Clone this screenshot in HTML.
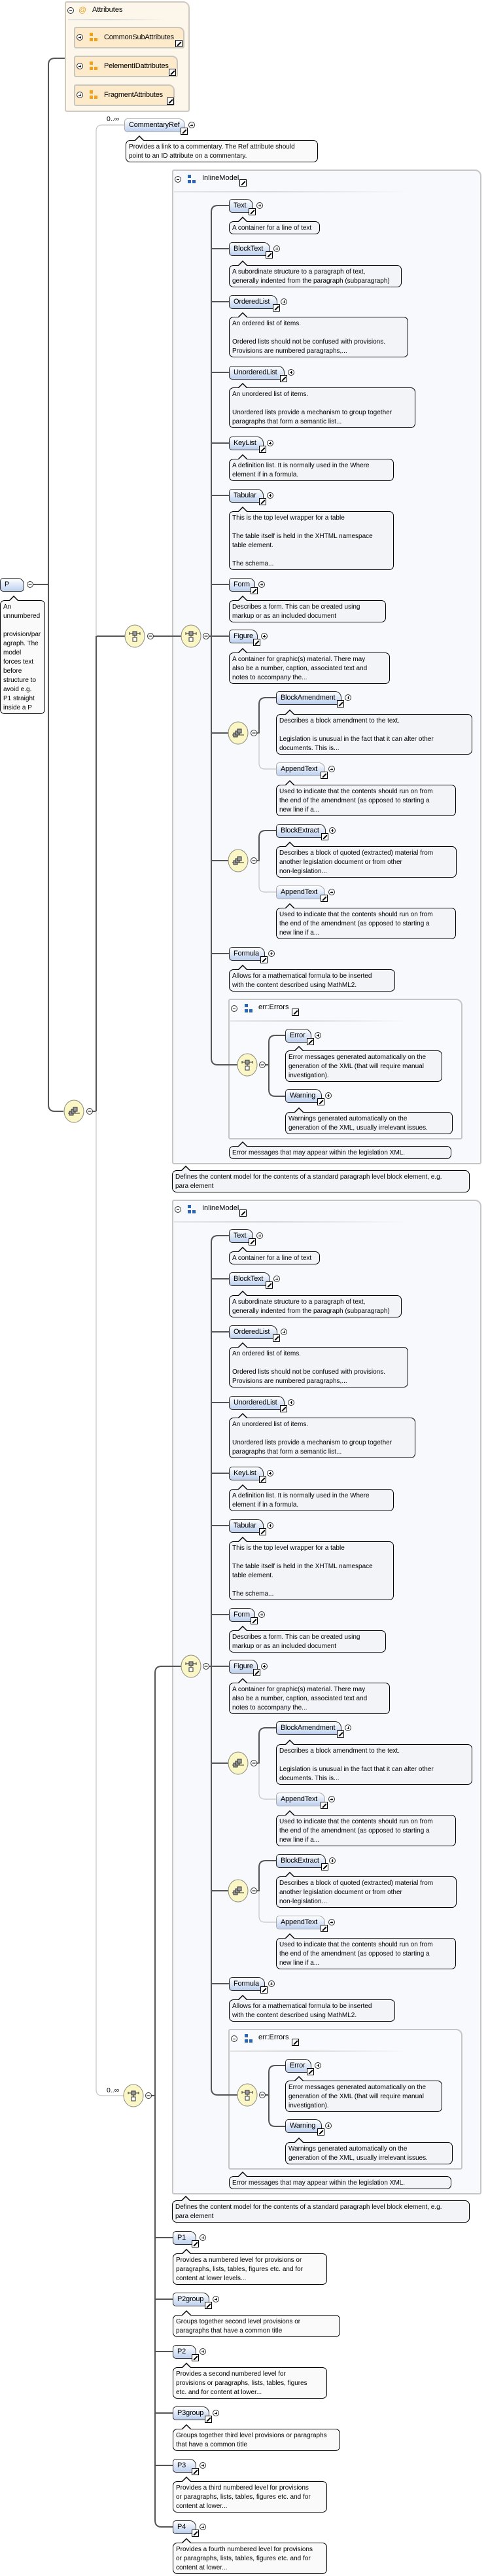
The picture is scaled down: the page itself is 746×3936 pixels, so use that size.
<!DOCTYPE html>
<html><head><meta charset="utf-8">
<style>
body{margin:0;width:746px;height:3936px;position:relative;background:#fff;overflow:hidden;font-family:"Liberation Sans",sans-serif}
.a{position:absolute;left:0;top:0;width:746px;height:1px}
.g{position:absolute;box-sizing:border-box;border:2px solid #c6c6c6;border-radius:3px 10px 3px 3px;background:#f7f9fd}
.ga{position:absolute;box-sizing:border-box;border:2px solid #cfc9c0;border-radius:3px 10px 3px 3px;background:#fdf6ea}
.gi{position:absolute;box-sizing:border-box;border:2px solid #cbc6bd;border-radius:3px 9px 3px 3px;background:#fdeacb;font:11px/28px "Liberation Sans",sans-serif;letter-spacing:-0.2px;padding-left:44px;white-space:nowrap}
.nd{position:absolute;box-sizing:border-box;height:21px;border:1px solid #2a2a2a;border-radius:5px 10px 5px 5px;background:linear-gradient(#ffffff,#bdd0ef);font:11px/19px "Liberation Sans",sans-serif;letter-spacing:-0.2px;padding-left:6px;white-space:nowrap;color:#000}
.nd.o{border-color:#a8a8a8}
.lk{position:absolute;right:-5px;top:13px;width:9px;height:9px;border:1px solid #000;background:#fff}
.lk::after{content:"";position:absolute;left:0.5px;top:3.5px;width:8px;height:2px;background:#000;transform:rotate(-45deg)}
.pl,.mi,.c{position:absolute;box-sizing:border-box;width:10px;height:10px;border:1px solid #333;border-radius:50%;background:#fff}
.nd .pl,.nd .mi{top:4px;right:-16px}
.pl::before,.mi::before,.c::before{content:"";position:absolute;left:2px;top:3.5px;width:4px;height:1px;background:#000}
.pl::after{content:"";position:absolute;left:3.5px;top:2px;width:1px;height:4px;background:#000}
.dc{position:absolute;box-sizing:border-box;border:1px solid #000;border-radius:7px;background:#f3f4f7;font:10px/14px "Liberation Sans",sans-serif;padding:3px 0 0 4px;white-space:nowrap;color:#000}
.dc::before{content:"";position:absolute;left:12px;top:-8px;border-left:8px solid transparent;border-right:8px solid transparent;border-bottom:8px solid #000}
.dc::after{content:"";position:absolute;left:13px;top:-6.5px;border-left:7px solid transparent;border-right:7px solid transparent;border-bottom:7px solid #f3f4f7}
.dc.w{background:#fafafa}.dc.w::after{border-bottom-color:#fafafa}
.ic{position:absolute;width:5px;height:5px;background:#2a66b4;box-shadow:0 8px 0 #2a66b4,7px 8px 0 #2a66b4}
.ic.or{background:#eca21e;box-shadow:0 8px 0 #eca21e,7px 8px 0 #eca21e}
.t{position:absolute;font:11px "Liberation Sans",sans-serif;white-space:nowrap}
.sep{position:absolute;height:2px;background:linear-gradient(90deg,#e4e4e4,#d8d8d8 40%,rgba(230,230,230,0))}
.lks{position:absolute;width:9px;height:9px;border:1px solid #000;background:#fff}
.lks::after{content:"";position:absolute;left:0.5px;top:3.5px;width:8px;height:2px;background:#000;transform:rotate(-45deg)}
</style></head><body>

<div class="ga" style="left:99px;top:2px;width:191px;height:169px"></div>
<div class="g" style="left:263px;top:259px;width:473px;height:1520px"></div>
<div class="g" style="left:349px;top:1526px;width:358px;height:215px;background:#f8fafd"></div>
<div class="g" style="left:263px;top:1833px;width:473px;height:1520px"></div>
<div class="g" style="left:349px;top:3100px;width:358px;height:215px;background:#f8fafd"></div>

<svg class="a" style="height:3936px;" width="746" height="3936" viewBox="0 0 746 3936">
<g fill="none" stroke="#555" stroke-width="2">
<path d="M99,89 H84 Q74,89 74,99 V1688 Q74,1698 84,1698 H97"/>
<path d="M51,893 H74"/>
<path d="M142,1698 H147 M147,972 V1698 M147,972 H191"/>
<path d="M235,972 H277"/>
<path d="M232,3202 H237 M277,2546 H247 Q237,2546 237,2556 V3851 Q237,3861 247,3861 H264 M237,3419 H264 M237,3513 H264 M237,3593 H264 M237,3687 H264 M237,3767 H264"/>
</g>
<g fill="none" stroke="#c4c4c4" stroke-width="1.2">
<path d="M190,191 H156 Q147,191 147,200 V972"/>
<path d="M147,1698 V3193 Q147,3202 156,3202 H189"/>
</g>
<g stroke="#8a8a7a" stroke-width="1" fill="#fbf6c6">
<ellipse cx="113" cy="1698" rx="15" ry="17"/>
<ellipse cx="206" cy="972" rx="15" ry="17"/>
<ellipse cx="204" cy="3202" rx="15" ry="17"/>
</g>
<g stroke="#333" stroke-width="1">
<g transform="translate(113,1698)"><path d="M-9,3 H9" /><rect x="-7" y="0" width="6" height="6" fill="#999"/><rect x="-4" y="-3" width="6" height="6" fill="#999"/><rect x="-1" y="-6" width="6" height="6" fill="#999"/></g>
<g transform="translate(206,972)"><path d="M-8,-4 H8 M-8,-6 V-2 M8,-6 V-2 M0,-1 V2"/><rect x="-3" y="-7" width="6" height="6" fill="#999"/><rect x="-3" y="2" width="6" height="6" fill="#fff"/></g>
<g transform="translate(204,3202)"><path d="M-8,-4 H8 M-8,-6 V-2 M8,-6 V-2 M0,-1 V2"/><rect x="-3" y="-7" width="6" height="6" fill="#999"/><rect x="-3" y="2" width="6" height="6" fill="#fff"/></g>
</g>
<g fill="#fff" stroke="#333">
<circle cx="137" cy="1698" r="4.5"/><circle cx="230" cy="972" r="4.5"/><circle cx="227" cy="3202" r="4.5"/><circle cx="46" cy="893" r="4.5"/>
</g>
<path d="M134.5,1698 H139.5 M227.5,972 H232.5 M224.5,3202 H229.5 M43.5,893 H48.5" stroke="#000"/>

<g>
<g fill="none" stroke="#555" stroke-width="2">
<path d="M320,972 H323 M350,314 H333 Q323,314 323,324 V1617 Q323,1627 333,1627 H363"/>
<path d="M323,380 H350 M323,461 H350 M323,569 H350 M323,677 H350 M323,757 H350 M323,893 H350 M323,972 H350 M323,1120 H349 M323,1315 H349 M323,1457 H350"/>
<path d="M393,1120 H396 V1076 Q396,1066 406,1066 H422"/>
<path d="M393,1315 H396 V1279 Q396,1269 406,1269 H422"/>
<path d="M406,1627 H411 V1592 Q411,1582 421,1582 H436 M411,1627 V1665 Q411,1675 421,1675 H436"/>
</g>
<g fill="none" stroke="#c4c4c4" stroke-width="1.2">
<path d="M396,1120 V1166 Q396,1175 405,1175 H422"/>
<path d="M396,1315 V1354 Q396,1363 405,1363 H422"/>
</g>
<g stroke="#8a8a7a" stroke-width="1" fill="#fbf6c6">
<ellipse cx="292" cy="972" rx="15" ry="17"/>
<ellipse cx="364" cy="1120" rx="15" ry="17"/>
<ellipse cx="364" cy="1315" rx="15" ry="17"/>
<ellipse cx="378" cy="1627" rx="15" ry="17"/>
</g>
<g stroke="#333" stroke-width="1">
<g transform="translate(292,972)"><path d="M-8,-4 H8 M-8,-6 V-2 M8,-6 V-2 M0,-1 V2"/><rect x="-3" y="-7" width="6" height="6" fill="#999"/><rect x="-3" y="2" width="6" height="6" fill="#fff"/></g>
<g transform="translate(378,1627)"><path d="M-8,-4 H8 M-8,-6 V-2 M8,-6 V-2 M0,-1 V2"/><rect x="-3" y="-7" width="6" height="6" fill="#999"/><rect x="-3" y="2" width="6" height="6" fill="#fff"/></g>
<g transform="translate(364,1120)"><path d="M-9,3 H9"/><rect x="-7" y="0" width="6" height="6" fill="#999"/><rect x="-4" y="-3" width="6" height="6" fill="#999"/><rect x="-1" y="-6" width="6" height="6" fill="#999"/></g>
<g transform="translate(364,1315)"><path d="M-9,3 H9"/><rect x="-7" y="0" width="6" height="6" fill="#999"/><rect x="-4" y="-3" width="6" height="6" fill="#999"/><rect x="-1" y="-6" width="6" height="6" fill="#999"/></g>
</g>
<g fill="#fff" stroke="#333">
<circle cx="315" cy="972" r="4.5"/><circle cx="388" cy="1120" r="4.5"/><circle cx="388" cy="1315" r="4.5"/><circle cx="401" cy="1627" r="4.5"/>
</g>
<path d="M312.5,972 H317.5 M385.5,1120 H390.5 M385.5,1315 H390.5 M398.5,1627 H403.5" stroke="#000"/>
</g>
<g transform="translate(0,1574)">
<g fill="none" stroke="#555" stroke-width="2">
<path d="M320,972 H323 M350,314 H333 Q323,314 323,324 V1617 Q323,1627 333,1627 H363"/>
<path d="M323,380 H350 M323,461 H350 M323,569 H350 M323,677 H350 M323,757 H350 M323,893 H350 M323,972 H350 M323,1120 H349 M323,1315 H349 M323,1457 H350"/>
<path d="M393,1120 H396 V1076 Q396,1066 406,1066 H422"/>
<path d="M393,1315 H396 V1279 Q396,1269 406,1269 H422"/>
<path d="M406,1627 H411 V1592 Q411,1582 421,1582 H436 M411,1627 V1665 Q411,1675 421,1675 H436"/>
</g>
<g fill="none" stroke="#c4c4c4" stroke-width="1.2">
<path d="M396,1120 V1166 Q396,1175 405,1175 H422"/>
<path d="M396,1315 V1354 Q396,1363 405,1363 H422"/>
</g>
<g stroke="#8a8a7a" stroke-width="1" fill="#fbf6c6">
<ellipse cx="292" cy="972" rx="15" ry="17"/>
<ellipse cx="364" cy="1120" rx="15" ry="17"/>
<ellipse cx="364" cy="1315" rx="15" ry="17"/>
<ellipse cx="378" cy="1627" rx="15" ry="17"/>
</g>
<g stroke="#333" stroke-width="1">
<g transform="translate(292,972)"><path d="M-8,-4 H8 M-8,-6 V-2 M8,-6 V-2 M0,-1 V2"/><rect x="-3" y="-7" width="6" height="6" fill="#999"/><rect x="-3" y="2" width="6" height="6" fill="#fff"/></g>
<g transform="translate(378,1627)"><path d="M-8,-4 H8 M-8,-6 V-2 M8,-6 V-2 M0,-1 V2"/><rect x="-3" y="-7" width="6" height="6" fill="#999"/><rect x="-3" y="2" width="6" height="6" fill="#fff"/></g>
<g transform="translate(364,1120)"><path d="M-9,3 H9"/><rect x="-7" y="0" width="6" height="6" fill="#999"/><rect x="-4" y="-3" width="6" height="6" fill="#999"/><rect x="-1" y="-6" width="6" height="6" fill="#999"/></g>
<g transform="translate(364,1315)"><path d="M-9,3 H9"/><rect x="-7" y="0" width="6" height="6" fill="#999"/><rect x="-4" y="-3" width="6" height="6" fill="#999"/><rect x="-1" y="-6" width="6" height="6" fill="#999"/></g>
</g>
<g fill="#fff" stroke="#333">
<circle cx="315" cy="972" r="4.5"/><circle cx="388" cy="1120" r="4.5"/><circle cx="388" cy="1315" r="4.5"/><circle cx="401" cy="1627" r="4.5"/>
</g>
<path d="M312.5,972 H317.5 M385.5,1120 H390.5 M385.5,1315 H390.5 M398.5,1627 H403.5" stroke="#000"/>
</g>
</svg>

<div class="c" style="left:103px;top:11px"></div>
<div class="t" style="left:120px;top:8px;color:#eca21e;font-size:12px">@</div>
<div class="t" style="left:141px;top:9px">Attributes</div>
<div class="sep" style="left:104px;top:29px;width:150px"></div>
<div class="gi" style="left:113px;top:41px;width:169px;height:33px">CommonSubAttributes</div>
<div class="gi" style="left:113px;top:85px;width:159px;height:33px">PelementIDattributes</div>
<div class="gi" style="left:113px;top:129px;width:154px;height:33px">FragmentAttributes</div>
<div class="pl" style="left:117px;top:52px"></div><div class="ic or" style="left:137px;top:50px"></div><div class="lks" style="left:268px;top:61px"></div>
<div class="pl" style="left:117px;top:96px"></div><div class="ic or" style="left:137px;top:94px"></div><div class="lks" style="left:258px;top:105px"></div>
<div class="pl" style="left:117px;top:140px"></div><div class="ic or" style="left:137px;top:138px"></div><div class="lks" style="left:255px;top:149px"></div>

<div class="t" style="left:163px;top:176px;font-size:10.5px">0..∞</div>
<div class="nd o" style="left:190px;top:181px;width:93px">CommentaryRef<i class="lk"></i><i class="pl"></i></div>
<div class="dc w" style="left:192px;top:214px;width:294px;height:34px">Provides a link to a commentary. The Ref attribute should<br>point to an ID attribute on a commentary.</div>
<div class="nd" style="left:0px;top:883px;width:37px">P</div>
<div class="dc w" style="left:0px;top:917px;width:69px;height:174px">An<br>unnumbered<br><br>provision/par<br>agraph. The<br>model<br>forces text<br>before<br>structure to<br>avoid e.g.<br>P1 straight<br>inside a P</div>

<div class="a" style="top:0px">
<div class="c" style="left:267px;top:269px"></div><div class="ic" style="left:287px;top:267px"></div>
<div class="t" style="left:309px;top:266px">InlineModel</div><div class="lks" style="left:366px;top:274px"></div>
<div class="sep" style="left:266px;top:292px;width:360px"></div>
<div class="nd" style="left:350px;top:304px;width:37px">Text<i class="lk"></i><i class="pl"></i></div>
<div class="dc" style="left:350px;top:338px;width:139px;height:20px">A container for a line of text</div>
<div class="nd" style="left:350px;top:370px;width:63px">BlockText<i class="lk"></i><i class="pl"></i></div>
<div class="dc" style="left:350px;top:405px;width:264px;height:34px">A subordinate structure to a paragraph of text,<br>generally indented from the paragraph (subparagraph)</div>
<div class="nd" style="left:350px;top:451px;width:74px">OrderedList<i class="lk"></i><i class="pl"></i></div>
<div class="dc" style="left:350px;top:484px;width:274px;height:62px">An ordered list of items.<br><br>Ordered lists should not be confused with provisions.<br>Provisions are numbered paragraphs,...</div>
<div class="nd" style="left:350px;top:559px;width:85px">UnorderedList<i class="lk"></i><i class="pl"></i></div>
<div class="dc" style="left:350px;top:592px;width:285px;height:62px">An unordered list of items.<br><br>Unordered lists provide a mechanism to group together<br>paragraphs that form a semantic list...</div>
<div class="nd" style="left:350px;top:667px;width:53px">KeyList<i class="lk"></i><i class="pl"></i></div>
<div class="dc" style="left:350px;top:701px;width:252px;height:34px">A definition list. It is normally used in the Where<br>element if in a formula.</div>
<div class="nd" style="left:350px;top:747px;width:53px">Tabular<i class="lk"></i><i class="pl"></i></div>
<div class="dc" style="left:350px;top:781px;width:252px;height:90px">This is the top level wrapper for a table<br><br>The table itself is held in the XHTML namespace<br>table element.<br><br>The schema...</div>
<div class="nd" style="left:350px;top:883px;width:40px">Form<i class="lk"></i><i class="pl"></i></div>
<div class="dc" style="left:350px;top:917px;width:240px;height:34px">Describes a form. This can be created using<br>markup or as an included document</div>
<div class="nd" style="left:350px;top:962px;width:44px">Figure<i class="lk"></i><i class="pl"></i></div>
<div class="dc" style="left:350px;top:997px;width:246px;height:48px">A container for graphic(s) material. There may<br>also be a number, caption, associated text and<br>notes to accompany the...</div>
<div class="nd" style="left:422px;top:1056px;width:100px">BlockAmendment<i class="lk"></i><i class="pl"></i></div>
<div class="dc" style="left:422px;top:1091px;width:300px;height:62px">Describes a block amendment to the text.<br><br>Legislation is unusual in the fact that it can alter other<br>documents. This is...</div>
<div class="nd o" style="left:422px;top:1165px;width:75px">AppendText<i class="lk"></i><i class="pl"></i></div>
<div class="dc" style="left:422px;top:1199px;width:275px;height:48px">Used to indicate that the contents should run on from<br>the end of the amendment (as opposed to starting a<br>new line if a...</div>
<div class="nd" style="left:422px;top:1259px;width:76px">BlockExtract<i class="lk"></i><i class="pl"></i></div>
<div class="dc" style="left:422px;top:1293px;width:276px;height:48px">Describes a block of quoted (extracted) material from<br>another legislation document or from other<br>non-legislation...</div>
<div class="nd o" style="left:422px;top:1353px;width:75px">AppendText<i class="lk"></i><i class="pl"></i></div>
<div class="dc" style="left:422px;top:1387px;width:275px;height:48px">Used to indicate that the contents should run on from<br>the end of the amendment (as opposed to starting a<br>new line if a...</div>
<div class="nd" style="left:350px;top:1447px;width:55px">Formula<i class="lk"></i><i class="pl"></i></div>
<div class="dc" style="left:350px;top:1481px;width:254px;height:34px">Allows for a mathematical formula to be inserted<br>with the content described using MathML2.</div>
<div class="c" style="left:353px;top:1536px"></div><div class="ic" style="left:374px;top:1534px"></div>
<div class="t" style="left:395px;top:1533px">err:Errors</div><div class="lks" style="left:446px;top:1541px"></div>
<div class="sep" style="left:352px;top:1559px;width:270px"></div>
<div class="nd" style="left:436px;top:1572px;width:40px">Error<i class="lk"></i><i class="pl"></i></div>
<div class="dc" style="left:436px;top:1605px;width:240px;height:48px">Error messages generated automatically on the<br>generation of the XML (that will require manual<br>investigation).</div>
<div class="nd" style="left:436px;top:1664px;width:56px">Warning<i class="lk"></i><i class="pl"></i></div>
<div class="dc" style="left:436px;top:1699px;width:256px;height:34px">Warnings generated automatically on the<br>generation of the XML, usually irrelevant issues.</div>
<div class="dc" style="left:350px;top:1751px;width:340px;height:20px">Error messages that may appear within the legislation XML.</div>
<div class="dc" style="left:263px;top:1788px;width:455px;height:34px">Defines the content model for the contents of a standard paragraph level block element, e.g.<br>para element</div>
</div>

<div class="a" style="top:1574px">
<div class="c" style="left:267px;top:269px"></div><div class="ic" style="left:287px;top:267px"></div>
<div class="t" style="left:309px;top:266px">InlineModel</div><div class="lks" style="left:366px;top:274px"></div>
<div class="sep" style="left:266px;top:292px;width:360px"></div>
<div class="nd" style="left:350px;top:304px;width:37px">Text<i class="lk"></i><i class="pl"></i></div>
<div class="dc" style="left:350px;top:338px;width:139px;height:20px">A container for a line of text</div>
<div class="nd" style="left:350px;top:370px;width:63px">BlockText<i class="lk"></i><i class="pl"></i></div>
<div class="dc" style="left:350px;top:405px;width:264px;height:34px">A subordinate structure to a paragraph of text,<br>generally indented from the paragraph (subparagraph)</div>
<div class="nd" style="left:350px;top:451px;width:74px">OrderedList<i class="lk"></i><i class="pl"></i></div>
<div class="dc" style="left:350px;top:484px;width:274px;height:62px">An ordered list of items.<br><br>Ordered lists should not be confused with provisions.<br>Provisions are numbered paragraphs,...</div>
<div class="nd" style="left:350px;top:559px;width:85px">UnorderedList<i class="lk"></i><i class="pl"></i></div>
<div class="dc" style="left:350px;top:592px;width:285px;height:62px">An unordered list of items.<br><br>Unordered lists provide a mechanism to group together<br>paragraphs that form a semantic list...</div>
<div class="nd" style="left:350px;top:667px;width:53px">KeyList<i class="lk"></i><i class="pl"></i></div>
<div class="dc" style="left:350px;top:701px;width:252px;height:34px">A definition list. It is normally used in the Where<br>element if in a formula.</div>
<div class="nd" style="left:350px;top:747px;width:53px">Tabular<i class="lk"></i><i class="pl"></i></div>
<div class="dc" style="left:350px;top:781px;width:252px;height:90px">This is the top level wrapper for a table<br><br>The table itself is held in the XHTML namespace<br>table element.<br><br>The schema...</div>
<div class="nd" style="left:350px;top:883px;width:40px">Form<i class="lk"></i><i class="pl"></i></div>
<div class="dc" style="left:350px;top:917px;width:240px;height:34px">Describes a form. This can be created using<br>markup or as an included document</div>
<div class="nd" style="left:350px;top:962px;width:44px">Figure<i class="lk"></i><i class="pl"></i></div>
<div class="dc" style="left:350px;top:997px;width:246px;height:48px">A container for graphic(s) material. There may<br>also be a number, caption, associated text and<br>notes to accompany the...</div>
<div class="nd" style="left:422px;top:1056px;width:100px">BlockAmendment<i class="lk"></i><i class="pl"></i></div>
<div class="dc" style="left:422px;top:1091px;width:300px;height:62px">Describes a block amendment to the text.<br><br>Legislation is unusual in the fact that it can alter other<br>documents. This is...</div>
<div class="nd o" style="left:422px;top:1165px;width:75px">AppendText<i class="lk"></i><i class="pl"></i></div>
<div class="dc" style="left:422px;top:1199px;width:275px;height:48px">Used to indicate that the contents should run on from<br>the end of the amendment (as opposed to starting a<br>new line if a...</div>
<div class="nd" style="left:422px;top:1259px;width:76px">BlockExtract<i class="lk"></i><i class="pl"></i></div>
<div class="dc" style="left:422px;top:1293px;width:276px;height:48px">Describes a block of quoted (extracted) material from<br>another legislation document or from other<br>non-legislation...</div>
<div class="nd o" style="left:422px;top:1353px;width:75px">AppendText<i class="lk"></i><i class="pl"></i></div>
<div class="dc" style="left:422px;top:1387px;width:275px;height:48px">Used to indicate that the contents should run on from<br>the end of the amendment (as opposed to starting a<br>new line if a...</div>
<div class="nd" style="left:350px;top:1447px;width:55px">Formula<i class="lk"></i><i class="pl"></i></div>
<div class="dc" style="left:350px;top:1481px;width:254px;height:34px">Allows for a mathematical formula to be inserted<br>with the content described using MathML2.</div>
<div class="c" style="left:353px;top:1536px"></div><div class="ic" style="left:374px;top:1534px"></div>
<div class="t" style="left:395px;top:1533px">err:Errors</div><div class="lks" style="left:446px;top:1541px"></div>
<div class="sep" style="left:352px;top:1559px;width:270px"></div>
<div class="nd" style="left:436px;top:1572px;width:40px">Error<i class="lk"></i><i class="pl"></i></div>
<div class="dc" style="left:436px;top:1605px;width:240px;height:48px">Error messages generated automatically on the<br>generation of the XML (that will require manual<br>investigation).</div>
<div class="nd" style="left:436px;top:1664px;width:56px">Warning<i class="lk"></i><i class="pl"></i></div>
<div class="dc" style="left:436px;top:1699px;width:256px;height:34px">Warnings generated automatically on the<br>generation of the XML, usually irrelevant issues.</div>
<div class="dc" style="left:350px;top:1751px;width:340px;height:20px">Error messages that may appear within the legislation XML.</div>
<div class="dc" style="left:263px;top:1788px;width:455px;height:34px">Defines the content model for the contents of a standard paragraph level block element, e.g.<br>para element</div>
</div>

<div class="t" style="left:163px;top:3188px;font-size:10.5px">0..∞</div>
<div class="nd" style="left:264px;top:3409px;width:36px">P1<i class="lk"></i><i class="pl"></i></div>
<div class="dc w" style="left:264px;top:3443px;width:236px;height:48px">Provides a numbered level for provisions or<br>paragraphs, lists, tables, figures etc. and for<br>content at lower levels...</div>
<div class="nd" style="left:264px;top:3503px;width:56px">P2group<i class="lk"></i><i class="pl"></i></div>
<div class="dc w" style="left:264px;top:3537px;width:256px;height:34px">Groups together second level provisions or<br>paragraphs that have a common title</div>
<div class="nd" style="left:264px;top:3583px;width:36px">P2<i class="lk"></i><i class="pl"></i></div>
<div class="dc w" style="left:264px;top:3617px;width:236px;height:48px">Provides a second numbered level for<br>provisions or paragraphs, lists, tables, figures<br>etc. and for content at lower...</div>
<div class="nd" style="left:264px;top:3677px;width:56px">P3group<i class="lk"></i><i class="pl"></i></div>
<div class="dc w" style="left:264px;top:3711px;width:256px;height:34px">Groups together third level provisions or paragraphs<br>that have a common title</div>
<div class="nd" style="left:264px;top:3757px;width:36px">P3<i class="lk"></i><i class="pl"></i></div>
<div class="dc w" style="left:264px;top:3791px;width:236px;height:48px">Provides a third numbered level for provisions<br>or paragraphs, lists, tables, figures etc. and for<br>content at lower...</div>
<div class="nd" style="left:264px;top:3851px;width:36px">P4<i class="lk"></i><i class="pl"></i></div>
<div class="dc w" style="left:264px;top:3885px;width:236px;height:48px">Provides a fourth numbered level for provisions<br>or paragraphs, lists, tables, figures etc. and for<br>content at lower...</div>

</body></html>
